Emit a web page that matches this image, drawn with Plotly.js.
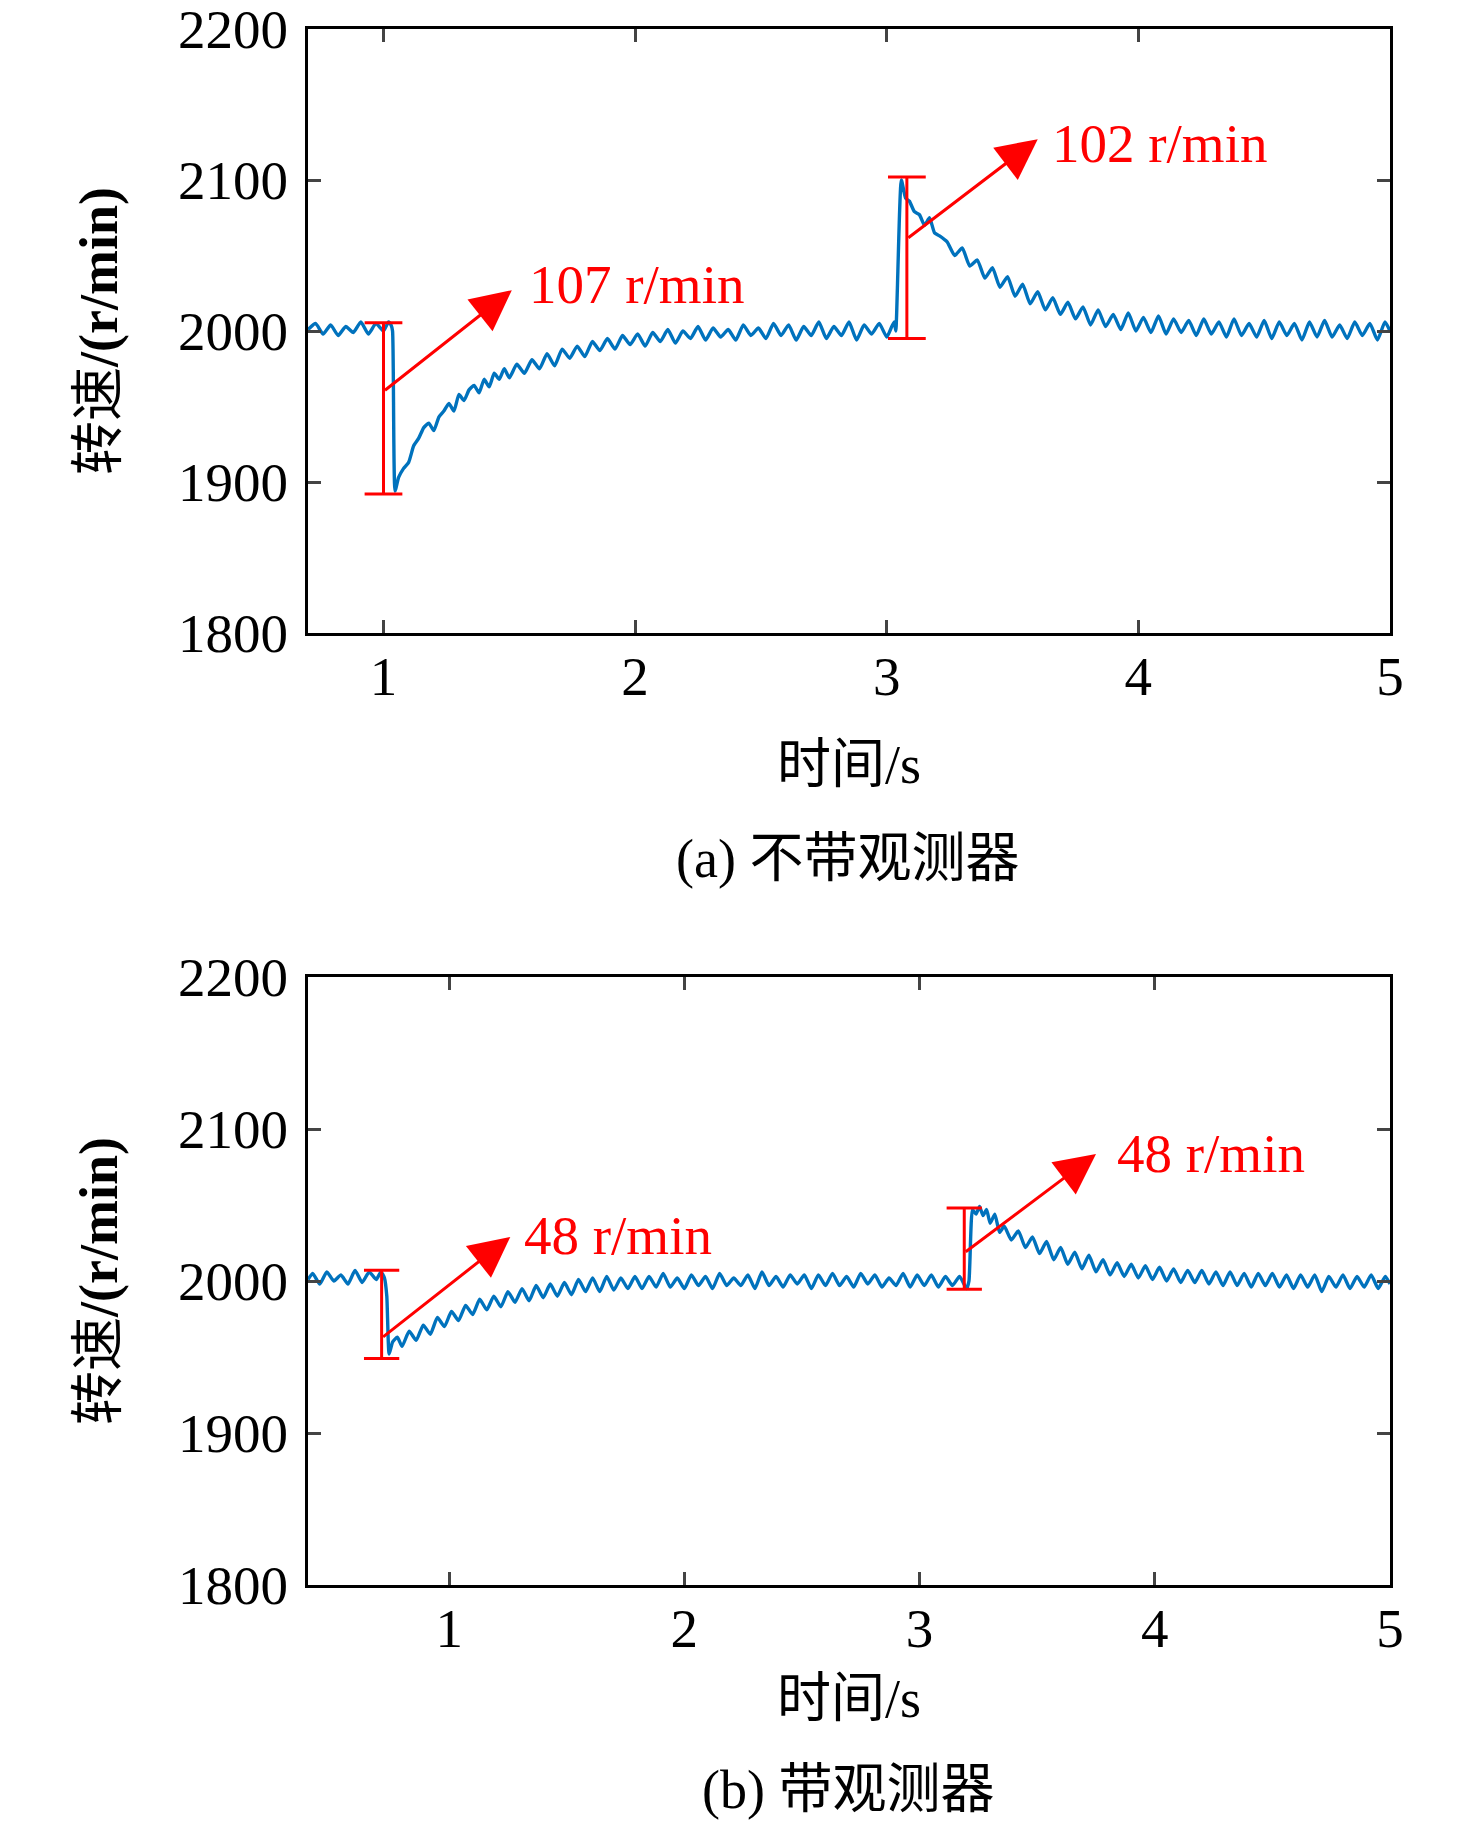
<!DOCTYPE html>
<html>
<head>
<meta charset="utf-8">
<script src="https://cdn.plot.ly/plotly-3.0.1.min.js"></script>
<style>
  html, body { margin: 0; padding: 0; background: #fff; }
  #chart { width: 1476px; height: 1827px; }
</style>
</head>
<body>
<div id="chart"></div>
<script>
// (a) without observer: time (s) and speed (r/min)
var timeA = [
  0.70,0.73,0.76,0.79,0.82,0.85,0.88,0.91,0.94,0.97,
  1.00,1.02,1.03,1.036,1.046,1.06,1.08,1.10,1.12,1.14,
  1.16,1.18,1.20,1.22,1.24,1.26,1.28,1.30,1.32,1.34,
  1.36,1.38,1.40,1.42,1.44,1.46,1.48,1.50,1.53,1.56,
  1.59,1.62,1.65,1.68,1.71,1.74,1.77,1.80,1.83,1.86,
  1.89,1.92,1.95,1.98,2.01,2.04,2.07,2.10,2.13,2.16,
  2.19,2.22,2.25,2.28,2.31,2.34,2.37,2.40,2.43,2.46,
  2.49,2.52,2.55,2.58,2.61,2.64,2.67,2.70,2.73,2.76,
  2.79,2.82,2.85,2.88,2.91,2.94,2.97,3.00,3.02,3.03,
  3.036,3.058,3.075,3.09,3.11,3.13,3.15,3.17,3.19,3.21,
  3.24,3.27,3.30,3.33,3.36,3.39,3.42,3.45,3.48,3.51,
  3.54,3.57,3.60,3.63,3.66,3.69,3.72,3.75,3.78,3.81,
  3.84,3.87,3.90,3.93,3.96,3.99,4.02,4.05,4.08,4.11,
  4.14,4.17,4.20,4.23,4.26,4.29,4.32,4.35,4.38,4.41,
  4.44,4.47,4.50,4.53,4.56,4.59,4.62,4.65,4.68,4.71,
  4.74,4.77,4.80,4.83,4.86,4.89,4.92,4.95,4.98,5.00
];
var speedA = [
  2001,2005,1998,2004,1997,2003,1999,2006,1998,2005,
  2000,2006,2004,2000,1894,1903,1909,1913,1924,1929,
  1936,1939,1934,1943,1947,1952,1947,1958,1954,1961,
  1964,1959,1968,1963,1972,1968,1975,1969,1978,1972,
  1981,1975,1985,1977,1988,1982,1990,1983,1993,1987,
  1995,1988,1997,1991,1998,1990,1999,1993,2001,1992,
  2000,1995,2003,1994,2002,1996,2001,1994,2004,1997,
  2002,1995,2005,1997,2004,1994,2003,1997,2006,1995,
  2003,1997,2006,1994,2004,1998,2005,1996,2003,2006,
  2000,2100,2088,2086,2079,2077,2070,2075,2065,2063,
  2059,2050,2055,2043,2047,2035,2042,2029,2036,2023,
  2031,2018,2026,2014,2022,2011,2019,2008,2016,2004,
  2014,2003,2011,2001,2012,2000,2009,1999,2010,1998,
  2008,1999,2007,1997,2008,1998,2006,1996,2008,1997,
  2005,1996,2007,1995,2006,1997,2005,1994,2006,1996,
  2007,1996,2004,1995,2006,1997,2005,1994,2006,2000
];

// (b) with observer
var timeB = [
  0.40,0.42,0.45,0.48,0.51,0.54,0.57,0.60,0.63,0.66,
  0.69,0.71,0.725,0.735,0.745,0.76,0.78,0.80,0.83,0.86,
  0.89,0.92,0.95,0.98,1.01,1.04,1.07,1.10,1.13,1.16,
  1.19,1.22,1.25,1.28,1.31,1.34,1.37,1.40,1.43,1.46,
  1.49,1.52,1.55,1.58,1.61,1.64,1.67,1.70,1.73,1.76,
  1.79,1.82,1.85,1.88,1.91,1.94,1.97,2.00,2.03,2.06,
  2.09,2.12,2.15,2.18,2.21,2.24,2.27,2.30,2.33,2.36,
  2.39,2.42,2.45,2.48,2.51,2.54,2.57,2.60,2.63,2.66,
  2.69,2.72,2.75,2.78,2.81,2.84,2.87,2.90,2.93,2.96,
  2.99,3.02,3.05,3.08,3.11,3.14,3.17,3.20,3.21,3.225,
  3.24,3.255,3.27,3.285,3.30,3.32,3.34,3.36,3.39,3.42,
  3.45,3.48,3.51,3.54,3.57,3.60,3.63,3.66,3.69,3.72,
  3.75,3.78,3.81,3.84,3.87,3.90,3.93,3.96,3.99,4.02,
  4.05,4.08,4.11,4.14,4.17,4.20,4.23,4.26,4.29,4.32,
  4.35,4.38,4.41,4.44,4.47,4.50,4.53,4.56,4.59,4.62,
  4.65,4.68,4.71,4.74,4.77,4.80,4.83,4.86,4.89,4.92,
  4.95,4.98,5.00
];
var speedB = [
  2001,2005,1998,2006,2000,2004,1998,2007,1999,2006,
  2001,2006,2002,1990,1952,1960,1963,1957,1967,1961,
  1971,1965,1976,1970,1980,1974,1984,1978,1988,1981,
  1990,1983,1993,1986,1995,1987,1997,1989,1998,1990,
  1999,1991,2001,1993,2002,1993,2003,1994,2002,1995,
  2003,1995,2003,1996,2005,1996,2002,1995,2004,1997,
  2003,1995,2005,1997,2002,1997,2004,1995,2006,1997,
  2003,1996,2004,1998,2004,1995,2004,1997,2005,1997,
  2003,1996,2005,1998,2004,1996,2002,1997,2005,1996,
  2004,1997,2004,1996,2003,1997,2003,1995,2000,2047,
  2044,2049,2043,2047,2038,2044,2032,2036,2027,2033,
  2022,2029,2018,2026,2014,2022,2011,2019,2008,2017,
  2006,2014,2004,2012,2003,2011,2002,2010,2001,2009,
  2000,2008,1999,2007,1999,2007,1998,2006,1997,2006,
  1997,2005,1996,2005,1997,2005,1996,2004,1995,2004,
  1996,2004,1993,2003,1996,2004,1995,2003,1996,2004,
  1995,2003,1998
];

// red markers: span bars, arrows, labels
var barTimeA = [1.0, 3.08], barLowA = [1892, 1995], barHighA = [2005.5, 2102];
var arrowFromTA = [1.0, 3.08], arrowFromVA = [1960, 2061];
var arrowToTA = [1.51, 3.60], arrowToVA = [2027, 2127];
var labelA = ['107 r/min', '102 r/min'], labelTA = [1.57, 3.65], labelVA = [2031, 2124.5];

var barTimeB = [0.713, 3.19], barLowB = [1949, 1994.5], barHighB = [2007, 2048];
var arrowFromTB = [0.713, 3.19], arrowFromVB = [1962.5, 2018.5];
var arrowToTB = [1.26, 3.75], arrowToVB = [2029, 2083.5];
var labelB = ['48 r/min', '48 r/min'], labelTB = [1.31, 3.83], labelVB = [2030, 2083.6];

var yTicks = [1800, 1900, 2000, 2100, 2200];
var xTicks = [1, 2, 3, 4, 5];

var FONT = 'Liberation Serif, "Times New Roman", "Noto Sans CJK SC", serif';
var RED = '#ff0000';
var BLUE = '#0072bd';

function axisX(range, anchor, dom, standoff) {
  return {
    domain: dom, anchor: anchor, range: range,
    tickvals: xTicks, ticks: 'inside', ticklen: 13, tickwidth: 3,
    showline: true, linewidth: 3, linecolor: '#000', mirror: 'allticks',
    showgrid: false, zeroline: false, automargin: false,
    ticklabelstandoff: -7, ticklabeloverflow: 'allow',
    tickfont: { family: FONT, size: 55, color: '#000' },
    title: { text: '时间/s', font: { family: FONT, size: 54, color: '#000' }, standoff: standoff }
  };
}
function axisY(anchor, dom) {
  return {
    domain: dom, anchor: anchor, range: [1800, 2200],
    tickvals: yTicks, ticks: 'inside', ticklen: 13, tickwidth: 3,
    showline: true, linewidth: 3, linecolor: '#000', mirror: 'allticks',
    showgrid: false, zeroline: false, automargin: false,
    ticklabelstandoff: 6, ticklabeloverflow: 'allow',
    tickfont: { family: FONT, size: 55, color: '#000' },
    title: { text: '转速<b>/(r/min)</b>', font: { family: FONT, size: 54, color: '#000' }, standoff: 44 }
  };
}

var shapes = [];
var annotations = [];
function addMarks(xr, yr, bt, lo, hi, ft, fv, tt, tv, lab, lt, lv) {
  var cap = 0.075;
  for (var i = 0; i < bt.length; i++) {
    var ln = { color: RED, width: 3 };
    shapes.push({ type: 'line', xref: xr, yref: yr, x0: bt[i], x1: bt[i], y0: lo[i], y1: hi[i], line: ln });
    shapes.push({ type: 'line', xref: xr, yref: yr, x0: bt[i] - cap, x1: bt[i] + cap, y0: lo[i], y1: lo[i], line: ln });
    shapes.push({ type: 'line', xref: xr, yref: yr, x0: bt[i] - cap, x1: bt[i] + cap, y0: hi[i], y1: hi[i], line: ln });
    annotations.push({
      xref: xr, yref: yr, axref: xr, ayref: yr,
      x: tt[i], y: tv[i], ax: ft[i], ay: fv[i], text: '',
      showarrow: true, arrowhead: 2, arrowsize: 2.7, arrowwidth: 3, arrowcolor: RED, standoff: 0
    });
    annotations.push({
      xref: xr, yref: yr, x: lt[i], y: lv[i], text: lab[i], showarrow: false,
      xanchor: 'left', yanchor: 'middle',
      font: { family: FONT, size: 55, color: RED }
    });
  }
}
addMarks('x', 'y', barTimeA, barLowA, barHighA, arrowFromTA, arrowFromVA, arrowToTA, arrowToVA, labelA, labelTA, labelVA);
addMarks('x2', 'y2', barTimeB, barLowB, barHighB, arrowFromTB, arrowFromVB, arrowToTB, arrowToVB, labelB, labelTB, labelVB);

annotations.push({ xref: 'paper', yref: 'paper', x: 0.5745, y: 0.5298, text: '(a) 不带观测器',
  showarrow: false, xanchor: 'center', yanchor: 'middle', font: { family: FONT, size: 54, color: '#000' } });
annotations.push({ xref: 'paper', yref: 'paper', x: 0.5745, y: 0.0205, text: '(b) 带观测器',
  showarrow: false, xanchor: 'center', yanchor: 'middle', font: { family: FONT, size: 54, color: '#000' } });

var traces = [
  { x: timeA, y: speedA, xaxis: 'x', yaxis: 'y', mode: 'lines', type: 'scatter',
    line: { color: BLUE, width: 3.4, shape: 'spline', smoothing: 0.5 }, hoverinfo: 'skip' },
  { x: timeB, y: speedB, xaxis: 'x2', yaxis: 'y2', mode: 'lines', type: 'scatter',
    line: { color: BLUE, width: 3.4, shape: 'spline', smoothing: 0.5 }, hoverinfo: 'skip' }
];

var xDom = [308 / 1476, 1390 / 1476];
var layout = {
  width: 1476, height: 1827,
  margin: { l: 0, r: 0, t: 0, b: 0 },
  paper_bgcolor: '#fff', plot_bgcolor: '#fff',
  showlegend: false,
  xaxis: axisX([0.7, 5], 'y', xDom, 40),
  yaxis: axisY('x', [1 - 633 / 1827, 1 - 29 / 1827]),
  xaxis2: axisX([0.4, 5], 'y2', xDom, 22),
  yaxis2: axisY('x2', [1 - 1585 / 1827, 1 - 977 / 1827]),
  shapes: shapes,
  annotations: annotations
};

Plotly.newPlot('chart', traces, layout, { staticPlot: true });
</script>
</body>
</html>
